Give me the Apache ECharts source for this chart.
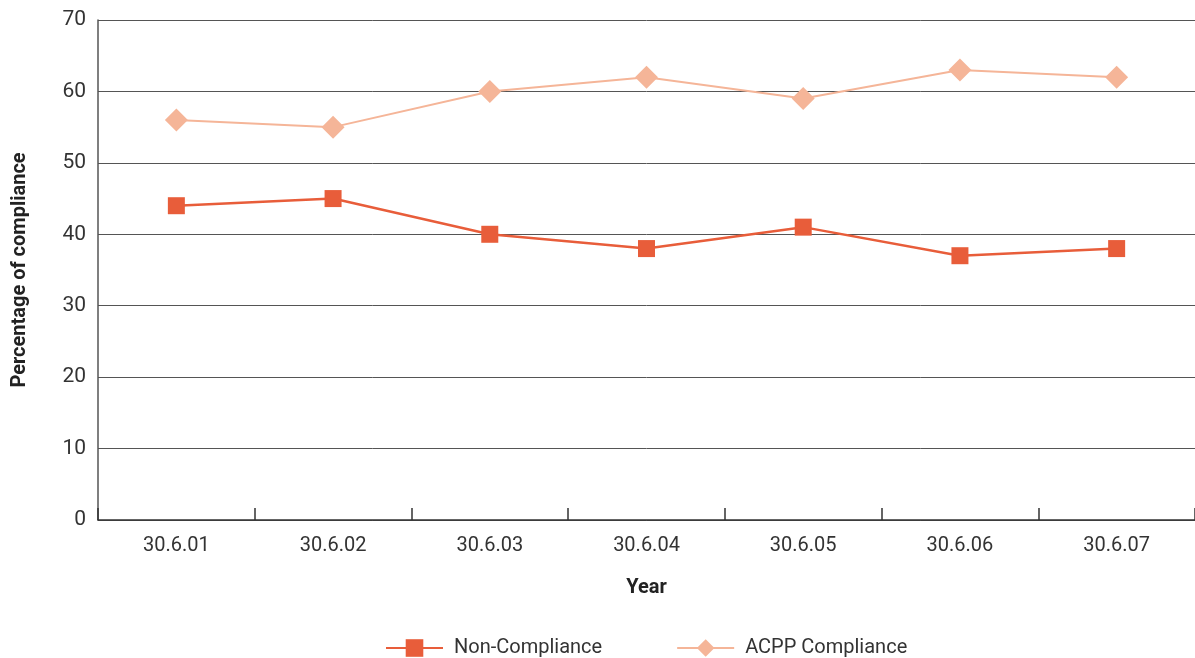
<!DOCTYPE html>
<html><head><meta charset="utf-8">
<script src="https://cdn.jsdelivr.net/npm/echarts@6/dist/echarts.min.js"></script>
<style>html,body{margin:0;padding:0;background:#fff}#c{width:1195px;height:658px}</style>
</head><body><div id="c"></div>
<script>
var categories = ['30.6.01','30.6.02','30.6.03','30.6.04','30.6.05','30.6.06','30.6.07'];
var nonCompliance = [44,45,40,38,41,37,38];
var acppCompliance = [56,55,60,62,59,63,62];
var font = 'Roboto';
var chart = echarts.init(document.getElementById('c'));
chart.setOption({
  animation:false,
  backgroundColor:'#fff',
  grid:{left:98,top:20,right:0,bottom:138,containLabel:false,outerBoundsMode:'none'},
  legend:{
    top:633,left:380,itemWidth:57,itemHeight:22,itemGap:74,
    textStyle:{fontFamily:font,fontSize:20,color:'#333',padding:[0,0,0,6]},
    data:['Non-Compliance','ACPP Compliance']
  },
  xAxis:{
    type:'category',data:categories,boundaryGap:true,
    name:'Year',nameLocation:'middle',nameGap:58,
    nameTextStyle:{fontFamily:font,fontSize:20,fontWeight:'bold',color:'#222'},
    axisLine:{lineStyle:{color:'#333',width:1.5}},
    axisTick:{show:true,inside:true,length:12,lineStyle:{color:'#333',width:1.5}},
    axisLabel:{fontFamily:font,fontSize:20,color:'#333',margin:16}
  },
  yAxis:{
    type:'value',min:0,max:70,interval:10,
    name:'Percentage of compliance',nameLocation:'middle',nameGap:68,
    nameTextStyle:{fontFamily:font,fontSize:20,fontWeight:'bold',color:'#222'},
    axisLine:{show:true,lineStyle:{color:'#555',width:1.5}},
    axisTick:{show:false},
    axisLabel:{fontFamily:font,fontSize:21,color:'#333',margin:12},
    splitLine:{lineStyle:{color:'#555',width:1}}
  },
  series:[
    {name:'Non-Compliance',type:'line',data:nonCompliance,symbol:'rect',symbolSize:17,
     itemStyle:{color:'#E85D3A'},lineStyle:{color:'#E85D3A',width:2.5}},
    {name:'ACPP Compliance',type:'line',data:acppCompliance,symbol:'diamond',symbolSize:23,
     itemStyle:{color:'#F5B598'},lineStyle:{color:'#F5B598',width:2}}
  ]
});
</script></body></html>
